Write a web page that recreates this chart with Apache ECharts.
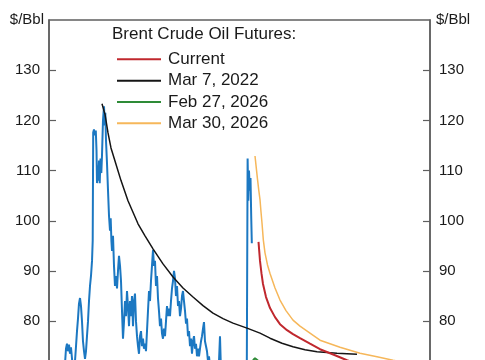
<!DOCTYPE html>
<html><head><meta charset="utf-8">
<script src="https://cdn.jsdelivr.net/npm/echarts@6/dist/echarts.min.js"></script>
<style>html,body{margin:0;padding:0;background:#fff;overflow:hidden}#c{width:485px;height:460px}</style>
</head><body><div id="c"></div>
<script>
// Brent spot price history: [decimal year, $/bbl]
const spotBrent = [
[2021.000,55],[2021.079,58],[2021.157,63],[2021.210,66],[2021.262,64],[2021.315,66],[2021.367,68],
[2021.420,71.5],[2021.446,74.5],[2021.472,75.5],[2021.499,74],[2021.525,75.3],[2021.551,73.5],[2021.577,74.8],
[2021.604,72.5],[2021.630,70],[2021.656,69],[2021.682,72],[2021.709,75],[2021.735,78],[2021.761,80.5],
[2021.787,83.5],[2021.814,84.6],[2021.840,83],[2021.866,80],[2021.892,76],[2021.919,74],[2021.945,72.5],
[2021.971,74],[2021.997,77],[2022.024,80],[2022.050,84],[2022.076,87],[2022.102,89],[2022.129,92],
[2022.147,96],[2022.160,117.6],[2022.181,118.2],[2022.207,117],[2022.228,118],[2022.247,114],[2022.260,107.5],
[2022.276,111],[2022.294,108],[2022.312,112],[2022.331,107.5],[2022.352,112.4],[2022.373,109.5],[2022.391,113],
[2022.417,120],[2022.444,122.8],[2022.462,119],[2022.478,121.5],[2022.496,116],[2022.522,111.5],[2022.549,106],
[2022.575,101],[2022.601,98],[2022.619,100.5],[2022.638,96],[2022.654,94],[2022.680,97],[2022.706,91],
[2022.732,87],[2022.759,89],[2022.785,86.5],[2022.811,90],[2022.837,93],[2022.864,91],[2022.890,88],
[2022.916,82],[2022.942,76.5],[2022.969,80],[2022.995,84],[2023.021,81],[2023.047,86],[2023.073,83],
[2023.100,79],[2023.126,84],[2023.152,81],[2023.178,85],[2023.205,79],[2023.231,84],[2023.257,85.5],
[2023.283,80],[2023.310,77],[2023.336,75],[2023.362,73.5],[2023.388,77],[2023.415,78],[2023.441,75],
[2023.467,76.5],[2023.493,74.5],[2023.520,75.5],[2023.546,74],[2023.572,78],[2023.598,82],[2023.625,86],
[2023.651,84],[2023.677,88],[2023.703,91],[2023.730,94.2],[2023.756,91],[2023.782,92],[2023.808,87],
[2023.835,89],[2023.861,84.5],[2023.887,82],[2023.913,79],[2023.940,80.5],[2023.966,77.5],[2023.992,76.5],
[2024.018,78.5],[2024.045,77],[2024.071,80],[2024.097,83],[2024.123,81],[2024.150,82.5],[2024.176,81],
[2024.202,84],[2024.228,86.5],[2024.255,88],[2024.281,90],[2024.307,88.5],[2024.333,85],[2024.360,87],
[2024.386,83],[2024.412,84],[2024.438,81],[2024.465,82.5],[2024.491,85],[2024.517,86],[2024.543,84],
[2024.570,82],[2024.596,79.5],[2024.622,80.5],[2024.648,77],[2024.675,78],[2024.701,75],[2024.727,76.5],
[2024.753,73.5],[2024.780,76],[2024.806,77],[2024.832,74.5],[2024.858,75.5],[2024.885,73],[2024.911,74.5],
[2024.937,73],[2024.963,74.5],[2024.990,76],[2025.016,77],[2025.042,78.5],[2025.068,79.8],[2025.094,76],
[2025.121,75],[2025.147,74],[2025.173,72],[2025.199,73],[2025.226,71],[2025.278,66],[2025.331,62],
[2025.383,64],[2025.436,67],[2025.462,72],[2025.488,77],[2025.514,70],[2025.567,69],[2025.646,68],
[2025.724,66],[2025.803,64],[2025.882,63],[2025.961,62],[2026.039,64],[2026.118,68],[2026.192,71],
[2026.213,112.4],[2026.231,104],[2026.249,110],[2026.270,106],[2026.289,108.5],[2026.307,101],[2026.323,95.5]
];
// Futures curves: [contract decimal year, $/bbl]
const curveCurrent = [
[2026.499,95.8],[2026.538,92],[2026.577,89.5],[2026.617,87.4],[2026.696,84.8],[2026.801,82.6],[2026.932,80.8],
[2027.063,79.4],[2027.247,78.2],[2027.404,77.4],[2027.588,76.6],[2027.850,75.5],[2028.113,74.4],[2028.507,73.2],
[2028.822,72.2],[2029.163,71.2],[2029.688,70.2]
];
const curveMar2022 = [
[2022.391,123.3],[2022.470,121.2],[2022.549,117.5],[2022.627,114.5],[2022.732,111.9],[2022.890,108],[2023.073,104],
[2023.336,99.4],[2023.520,97],[2023.730,94.4],[2023.992,91.4],[2024.255,88.8],[2024.517,86.6],[2024.780,84.8],
[2025.042,83.1],[2025.304,81.6],[2025.567,80.5],[2025.829,79.6],[2026.197,78.6],[2026.538,77.6],[2026.801,76.6],
[2027.115,75.6],[2027.404,74.9],[2027.719,74.3],[2028.034,73.9],[2028.559,73.6],[2029.084,73.4]
];
const curveFeb2026 = [
[2026.354,72.2],[2026.407,72.6],[2026.459,72.4],[2026.538,71.8],[2026.669,71.0],[2026.932,70.0],[2027.588,68.8],
[2028.638,67.8],[2030.213,67.5]
];
const curveMar2026 = [
[2026.407,112.9],[2026.441,110.5],[2026.472,108.3],[2026.507,106],[2026.538,104.2],[2026.564,101.8],[2026.591,99.5],
[2026.625,96.2],[2026.669,93.6],[2026.735,91.2],[2026.801,89.5],[2026.932,86.6],[2027.063,84.2],[2027.220,82.1],
[2027.404,80.2],[2027.588,79],[2027.850,77.6],[2028.113,76.2],[2028.638,74.8],[2029.163,73.6],[2029.609,72.9],
[2030.029,72.2],[2030.738,71.2]
];
const legendNames = ['Current','Mar 7, 2022','Feb 27, 2026','Mar 30, 2026'];
const legendTitle = 'Brent Crude Oil Futures:';
const unitLabel = '$/Bbl';

const FONT = '"Liberation Sans", Arial, Helvetica, sans-serif';
const TXT = '#1a1a1a';
const AX = '#5f5f5f';

const chart = echarts.init(document.getElementById('c'), null, {renderer:'canvas'});
function yAx(pos){
  const left = pos === 'left';
  return {
    type:'value', position:pos, min:60, max:140, interval:10,
    name: unitLabel, nameLocation:'end', nameGap:0,
    nameTextStyle:{fontFamily:FONT, fontSize:15, color:TXT, align: left?'right':'left', verticalAlign:'middle',
      padding: left?[0,5,0,0]:[0,0,0,6]},
    axisLine:{show:true, lineStyle:{color:AX, width:1.5}},
    axisTick:{show:true, inside:true, length:7, lineStyle:{color:AX, width:1.2}},
    axisLabel:{fontFamily:FONT, fontSize:15, color:TXT, margin:9, showMaxLabel:false},
    splitLine:{show:false}
  };
}
function line(name, data, color, width, z){
  return {name, type:'line', data, symbol:'none', showSymbol:false, z:z||2,
    lineStyle:{color, width}, itemStyle:{color}, emphasis:{disabled:true}, animation:false};
}
chart.setOption({
  animation:false,
  backgroundColor:'#fff',
  title:{text:legendTitle, left:112, top:26, padding:0,
    textStyle:{fontFamily:FONT, fontSize:17, fontWeight:'normal', color:TXT}},
  legend:{orient:'vertical', left:117, top:50.8, padding:0, icon:'rect', itemWidth:44, itemHeight:2, itemGap:4.33,
    data:legendNames, selectedMode:false,
    textStyle:{fontFamily:FONT, fontSize:17, color:TXT, lineHeight:17, padding:[0,0,0,2]}},
  grid:{left:49, right:55, top:20, bottom:38.5, show:true, borderColor:AX, borderWidth:1.5, containLabel:false},
  xAxis:{type:'value', min:2021, max:2031, show:false},
  yAxis:[yAx('left'), yAx('right')],
  series:[
    line('Spot', spotBrent, '#1c78c2', 2, 3),
    line(legendNames[1], curveMar2022, '#151515', 1.5, 4),
    line(legendNames[2], curveFeb2026, '#2e8b37', 2, 4),
    line(legendNames[3], curveMar2026, '#f6b75a', 1.5, 4),
    line(legendNames[0], curveCurrent, '#c0282e', 2, 5)
  ]
});
</script></body></html>
